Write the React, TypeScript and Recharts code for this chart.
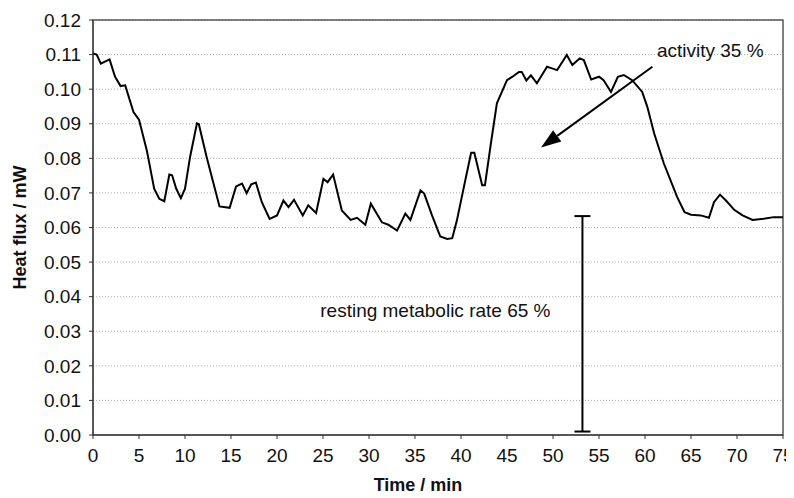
import {
  CartesianGrid,
  Line,
  LineChart,
  ReferenceArea,
  ReferenceDot,
  ReferenceLine,
  XAxis,
  YAxis,
} from 'recharts'

const times = [
  0, 0.4, 0.85, 1.8, 2.4, 3.0, 3.5, 4.4, 5.0, 5.85, 6.65, 7.2, 7.75, 8.3, 8.6,
  9.05, 9.55, 10.0, 10.55, 11.3, 11.5, 12.35, 13.1, 13.75, 14.85, 15.55, 16.2,
  16.7, 17.2, 17.7, 18.35, 19.2, 20.0, 20.7, 21.25, 21.85, 22.8, 23.4, 24.25,
  25.05, 25.5, 26.1, 27.05, 28.0, 28.7, 29.6, 30.2, 31.4, 32.1, 33.05, 33.95,
  34.5, 35.6, 36.0, 36.85, 37.75, 38.5, 39.05, 39.55, 40.5, 41.1, 41.45, 42.3,
  42.6, 43.25, 43.9, 45.0, 45.6, 46.3, 46.6, 47.1, 47.6, 48.25, 49.35, 49.9,
  50.45, 51.5, 52.1, 52.9, 53.35, 54.15, 55.0, 55.5, 56.3, 57.05, 57.7, 58.6,
  59.7, 60.25, 61.0, 62.05, 63.5, 64.3, 65.0, 66.05, 66.95, 67.5, 68.15, 68.8,
  69.7, 70.6, 71.7, 72.9, 74.0, 75.0,
]

const heatFlux = [
  0.1103, 0.11, 0.1074, 0.1086, 0.1036, 0.1009, 0.1011, 0.0934, 0.0912, 0.0823,
  0.0712, 0.0683, 0.0676, 0.0753, 0.0751, 0.0712, 0.0685, 0.0712, 0.0804,
  0.0901, 0.0899, 0.0804, 0.0727, 0.0661, 0.0657, 0.0719, 0.0727, 0.0699,
  0.0725, 0.073, 0.0673, 0.0625, 0.0635, 0.0678, 0.0659, 0.068, 0.0635, 0.0664,
  0.0642, 0.0741, 0.0731, 0.0753, 0.0649, 0.0622, 0.0628, 0.0608, 0.0669,
  0.0615, 0.0608, 0.0591, 0.064, 0.0622, 0.0707, 0.0698, 0.0635, 0.0574,
  0.0567, 0.0569, 0.062, 0.0741, 0.0816, 0.0816, 0.0722, 0.0722, 0.0843,
  0.0959, 0.1026, 0.1036, 0.105, 0.105, 0.1025, 0.104, 0.1017, 0.1065, 0.106,
  0.1055, 0.1099, 0.107, 0.1089, 0.1084, 0.1028, 0.1036, 0.1026, 0.0992,
  0.1036, 0.1041, 0.1026, 0.0992, 0.0949, 0.0872, 0.0785, 0.0688, 0.0644,
  0.0637, 0.0635, 0.0628, 0.0673, 0.0695, 0.0678, 0.0651, 0.0635, 0.0622,
  0.0625, 0.063, 0.063,
]

const xTicks = [0, 5, 10, 15, 20, 25, 30, 35, 40, 45, 50, 55, 60, 65, 70, 75]
const yTicks = [
  0, 0.01, 0.02, 0.03, 0.04, 0.05, 0.06, 0.07, 0.08, 0.09, 0.1, 0.11, 0.12,
]

// annotations (data coordinates)
const activityArrow = { from: [60.8, 0.1065], to: [48.7, 0.0831] }
const activityLabel = { x: 61.3, y: 0.1113, text: 'activity 35 %' }
const restingBar = { x: 53.2, top: 0.0633, bottom: 0.001 }
const restingLabel = { x: 24.7, y: 0.036, text: 'resting metabolic rate 65 %' }

const chartData = times.map((t, i) => ({ time: t, flux: heatFlux[i] }))

const font = '"Liberation Sans", Arial, sans-serif'

function ArrowShape(props: any) {
  const { x1, y1, x2, y2 } = props
  const ang = Math.atan2(y2 - y1, x2 - x1)
  const len = 20
  const half = 7
  const bx = x2 - len * Math.cos(ang)
  const by = y2 - len * Math.sin(ang)
  const px = -Math.sin(ang) * half
  const py = Math.cos(ang) * half
  return (
    <g>
      <line x1={x1} y1={y1} x2={bx} y2={by} stroke="#000" strokeWidth={2} />
      <polygon
        points={`${x2},${y2} ${bx + px},${by + py} ${bx - px},${by - py}`}
        fill="#000"
      />
    </g>
  )
}

function BarShape(props: any) {
  const { x1, y1, x2, y2 } = props
  const cap = 8
  return (
    <g stroke="#000" strokeWidth={2}>
      <line x1={x1} y1={y1} x2={x2} y2={y2} />
      <line x1={x1 - cap} y1={y1} x2={x1 + cap} y2={y1} />
      <line x1={x2 - cap} y1={y2} x2={x2 + cap} y2={y2} />
    </g>
  )
}

function textShape(text: string) {
  return (props: any) => (
    <text
      x={props.cx}
      y={props.cy}
      dominantBaseline="central"
      fontFamily={font}
      fontSize={19}
      fill="#111"
    >
      {text}
    </text>
  )
}

export default function App() {
  return (
    <div style={{ width: 786, height: 490, background: '#fff' }}>
      <LineChart
        width={786}
        height={490}
        data={chartData}
        margin={{ top: 12, right: 11, bottom: 2, left: 5 }}
      >
        <CartesianGrid
          vertical={false}
          stroke="#aaa"
          strokeDasharray="1 2"
        />
        <ReferenceArea
          x1={0}
          x2={75}
          y1={0}
          y2={0.12}
          fill="none"
          stroke="#555"
          strokeWidth={1.5}
        />
        <XAxis
          dataKey="time"
          type="number"
          domain={[0, 75]}
          ticks={xTicks}
          interval={0}
          stroke="#333"
          tickSize={4}
          tickMargin={10}
          height={61}
          tick={{ fontFamily: font, fontSize: 19, fill: '#111' }}
          label={{
            value: 'Time / min',
            position: 'insideBottom',
            offset: 5,
            dx: -20,
            style: {
              fontFamily: font,
              fontSize: 18,
              fontWeight: 'bold',
              fill: '#111',
            },
          }}
        />
        <YAxis
          type="number"
          domain={[0, 0.12]}
          ticks={yTicks}
          interval={0}
          width={80}
          stroke="#333"
          tickSize={4}
          tickMargin={8}
          tickFormatter={(v: number) => v.toFixed(2)}
          tick={{ fontFamily: font, fontSize: 19, fill: '#111' }}
          label={{
            value: 'Heat flux / mW',
            angle: -90,
            position: 'insideLeft',
            offset: 7,
            style: {
              textAnchor: 'middle',
              fontFamily: font,
              fontSize: 18,
              fontWeight: 'bold',
              fill: '#111',
            },
          }}
        />
        <Line
          dataKey="flux"
          type="linear"
          stroke="#000"
          strokeWidth={2}
          dot={false}
          isAnimationActive={false}
        />
        <ReferenceLine
          segment={[
            { x: activityArrow.from[0], y: activityArrow.from[1] },
            { x: activityArrow.to[0], y: activityArrow.to[1] },
          ]}
          shape={ArrowShape}
        />
        <ReferenceLine
          segment={[
            { x: restingBar.x, y: restingBar.top },
            { x: restingBar.x, y: restingBar.bottom },
          ]}
          shape={BarShape}
        />
        <ReferenceDot
          x={activityLabel.x}
          y={activityLabel.y}
          shape={textShape(activityLabel.text)}
        />
        <ReferenceDot
          x={restingLabel.x}
          y={restingLabel.y}
          shape={textShape(restingLabel.text)}
        />
      </LineChart>
    </div>
  )
}
